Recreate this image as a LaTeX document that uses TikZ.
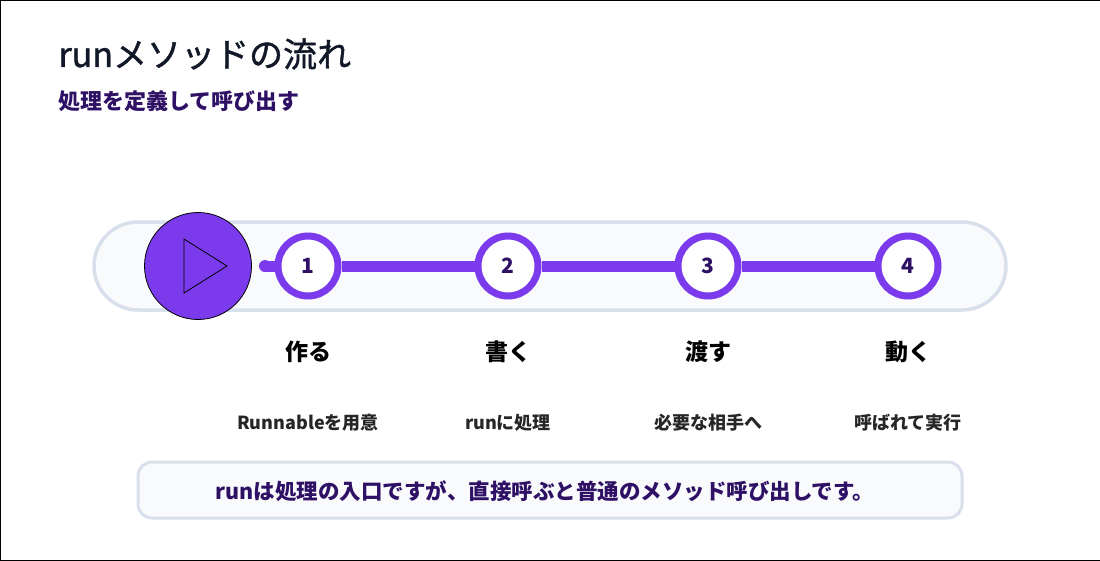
\documentclass[tikz,border=0pt]{standalone}
\usepackage{fontspec}
\setmainfont{Noto Sans CJK JP}
\newfontfamily\titlefont[FakeBold=1.2]{Noto Sans CJK JP}
\begin{document}
\begin{tikzpicture}[x=1pt,y=-1pt,
  pill/.style={draw=cB,fill=cF,line width=3.5pt},
  stepc/.style={circle,draw=cP,fill=white,line width=7pt,minimum size=60pt,inner sep=0pt,font=\fontsize{21}{24}\selectfont\bfseries,text=cD},
  lab/.style={font=\fontsize{23}{26}\selectfont\bfseries,text=black},
  sub/.style={font=\fontsize{18}{21}\selectfont\bfseries,text=black!85}]
\definecolor{cP}{HTML}{7C3AED}
\definecolor{cB}{HTML}{D8E0EC}
\definecolor{cF}{HTML}{F8FAFC}
\definecolor{cD}{HTML}{2E1065}
\definecolor{cT}{HTML}{111827}
\useasboundingbox (0,0) rectangle (1100,560);
\draw[black,line width=0.8pt] (0,0) rectangle (1100,560);
\node[anchor=west,text=cT,font=\titlefont\fontsize{34}{38}\selectfont] (title) at (55,54) {runメソッドの流れ};
\node[anchor=west,text=cD,font=\fontsize{22}{25}\selectfont\bfseries] (subt) at (55,101) {処理を定義して呼び出す};
\draw[pill,rounded corners=44pt] (94,222) rectangle (1006,310);
\coordinate (d) at (265,266);
\fill[cP] (d) circle (6);
\node[stepc] (s1) at (308,266) {1};
\node[stepc] (s2) at (508,266) {2};
\node[stepc] (s3) at (708,266) {3};
\node[stepc] (s4) at (908,266) {4};
\draw[cP,line width=11pt] (d) -- (s1) (s1) -- (s2) (s2) -- (s3) (s3) -- (s4);
\node[circle,draw=black,fill=cP,line width=0.8pt,minimum size=107pt,inner sep=0pt] (play) at (198,266) {};
\draw[line width=0.8pt] (184,239) -- (184,293) -- (227,266) -- cycle;
\node[lab] (l1) at (308,352) {作る};
\node[lab] (l2) at (508,352) {書く};
\node[lab] (l3) at (708,352) {渡す};
\node[lab] (l4) at (908,352) {動く};
\node[sub] (u1) at (308,423) {Runnableを用意};
\node[sub] (u2) at (508,423) {runに処理};
\node[sub] (u3) at (708,423) {必要な相手へ};
\node[sub] (u4) at (908,423) {呼ばれて実行};
\draw[pill,line width=3pt,rounded corners=14pt] (138,462) rectangle (962,518);
\node[text=cD,font=\fontsize{21.5}{24}\selectfont\bfseries] (note) at (545,491) {runは処理の入口ですが、直接呼ぶと普通のメソッド呼び出しです。};
\end{tikzpicture}
\end{document}
